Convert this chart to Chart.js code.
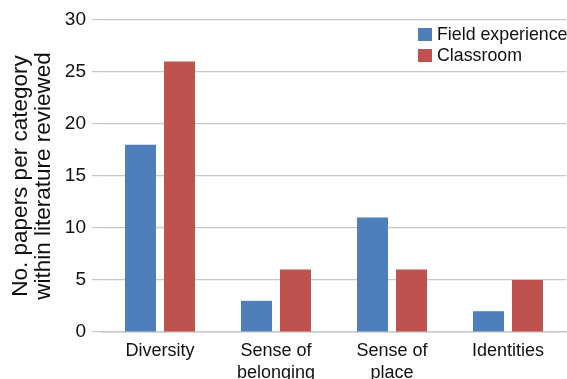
<!DOCTYPE html>
<html lang="en">
  <head>
    <meta charset="UTF-8" />
    <title>Papers per category</title>
    <script src="https://cdn.jsdelivr.net/npm/chart.js@4/dist/chart.umd.min.js"></script>
    <style>
      html, body { margin: 0; padding: 0; background: #fff; }
      #chart { display: block; }
    </style>
  </head>
  <body>
    <canvas id="chart" width="567" height="379"></canvas>
    <script>
      // categories and counts
      const categories = [["Diversity"], ["Sense of", "belonging"], ["Sense of", "place"], ["Identities"]];
      const fieldExperience = [18, 3, 11, 2];
      const classroom = [26, 6, 6, 5];
      const yTicks = [0, 5, 10, 15, 20, 25, 30];

      const FONT = "'Liberation Sans', Arial, Helvetica, sans-serif";
      const GRID = "#c8c8c8";

      // legend drawn in the upper right corner of the plot
      const boxLegend = {
        id: "boxLegend",
        afterDraw(chart) {
          const ctx = chart.ctx;
          ctx.save();
          ctx.font = "17.8px " + FONT;
          ctx.textBaseline = "middle";
          ctx.textAlign = "left";
          chart.data.datasets.forEach((ds, i) => {
            const y = 28 + i * 21;
            ctx.fillStyle = ds.backgroundColor;
            ctx.fillRect(418, y, 14, 13);
            ctx.fillStyle = "#111";
            ctx.fillText(ds.label, 437, y + 7);
          });
          ctx.restore();
        }
      };

      new Chart(document.getElementById("chart"), {
        type: "bar",
        data: {
          labels: categories,
          datasets: [
            {
              label: "Field experience",
              data: fieldExperience,
              backgroundColor: "#4f7fbb",
              categoryPercentage: 0.672,
              barPercentage: 0.795
            },
            {
              label: "Classroom",
              data: classroom,
              backgroundColor: "#bf514e",
              categoryPercentage: 0.672,
              barPercentage: 0.795
            }
          ]
        },
        options: {
          responsive: false,
          animation: false,
          devicePixelRatio: 1,
          layout: { padding: { top: 20, right: 1, left: 0, bottom: 0 } },
          plugins: {
            legend: { display: false },
            tooltip: { enabled: false }
          },
          scales: {
            x: {
              grid: { display: false },
              border: { display: true, color: GRID, width: 1.5 },
              ticks: {
                color: "#111",
                font: { family: FONT, size: 18, lineHeight: 1.17 },
                padding: 1,
                maxRotation: 0,
                autoSkip: false
              },
              afterFit(scale) { scale.height = 47; }
            },
            y: {
              min: 0,
              max: 30,
              afterBuildTicks(scale) {
                scale.ticks = yTicks.map(v => ({ value: v }));
              },
              grid: { color: GRID, lineWidth: 1.2, drawTicks: true, tickLength: 10, tickColor: GRID },
              border: { display: false },
              ticks: {
                color: "#111",
                font: { family: FONT, size: 19 },
                padding: 6
              },
              title: {
                display: true,
                text: ["No. papers per category", "within literature reviewed"],
                color: "#111",
                font: { family: FONT, size: 22.5, lineHeight: 1.02 },
                padding: { top: 9, bottom: 0 }
              },
              afterFit(scale) { scale.width = 102; }
            }
          }
        },
        plugins: [boxLegend]
      });
    </script>
  </body>
</html>
